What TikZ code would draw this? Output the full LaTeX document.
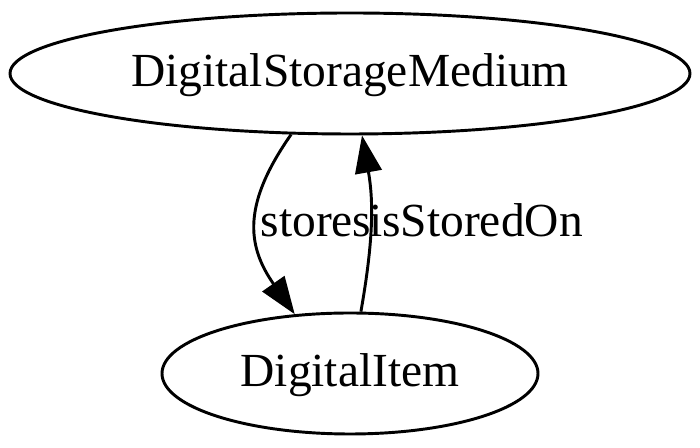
\documentclass[tikz,border=0pt]{standalone}
\usepackage{fontspec}
\setmainfont{Liberation Serif}
\usetikzlibrary{shapes.geometric,arrows.meta}

\tikzset{
	cls/.style={shape=ellipse,draw=black,line width=2.2pt,inner sep=0pt,
		minimum height=90.75pt,font=\fontsize{35.6}{42}\selectfont,
		text height=23pt,text depth=3pt},
	rel/.style={line width=2.2pt,-{Triangle[length=28pt,width=20pt]}},
	lbl/.style={font=\fontsize{35.6}{42}\selectfont,inner sep=0pt,anchor=base}
}

\begin{document}
\begin{tikzpicture}[x=0.75pt,y=0.75pt]
	
	\useasboundingbox (0,0) rectangle (700,448);
	
	\node[cls,minimum width=510pt] (dsm) at (350, 374.5) {DigitalStorageMedium};
	\node[cls,minimum width=282pt] (di)  at (350, 74.5)  {DigitalItem};
	
	\node[lbl] (lstores) at (316, 211) {stores};
	\node[lbl] (lisstored) at (476, 211) {isStoredOn};
	
	\path[rel] (dsm.-134) edge[out=-125, in=125, looseness=1.2] (di.133);
	\path[rel] (di.80) edge[out=80, in=-80] (dsm.-79);
	
\end{tikzpicture}
\end{document}
